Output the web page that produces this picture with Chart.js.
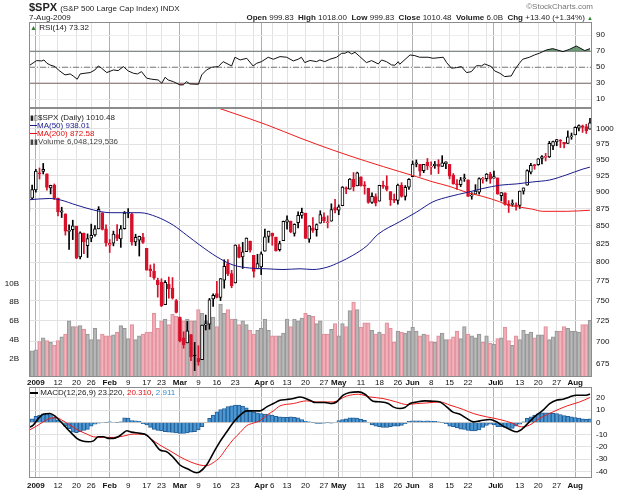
<!DOCTYPE html>
<html>
<head>
<meta charset="utf-8">
<script src="https://cdn.jsdelivr.net/npm/chart.js@4.4.0/dist/chart.umd.min.js"></script>
<style>
  body { margin:0; background:#fff; width:625px; height:491px; position:relative; overflow:hidden; font-family:'Liberation Sans', Arial, sans-serif; }
  canvas { position:absolute; left:0; top:0; }
  .t { position:absolute; white-space:nowrap; font-size:8px; line-height:8px; color:#222; }
  .b { font-weight:bold; }
</style>
</head>
<body>
<canvas id="rsiChart" width="625" height="491"></canvas>
<canvas id="priceChart" width="625" height="491"></canvas>
<canvas id="macdChart" width="625" height="491"></canvas>

<div class="t" style="left:29px;top:2px;font-size:11px;line-height:11px;font-weight:bold">$SPX <span style="font-size:8px;font-weight:normal">(S&amp;P 500 Large Cap Index) INDX</span></div>
<div class="t" style="left:29px;top:14px">7-Aug-2009</div>
<div class="t" style="right:32px;top:14px"><span class="b">Open</span> 999.83 &nbsp;<span class="b">High</span> 1018.00 &nbsp;<span class="b">Low</span> 999.83 &nbsp;<span class="b">Close</span> 1010.48 &nbsp;<span class="b">Volume</span> 6.0B &nbsp;<span class="b">Chg</span> +13.40 (+1.34%) <span style="color:#2a8a2a;font-size:6px">&#9650;</span></div>
<div class="t" style="right:32px;top:3px;color:#777">&copy;StockCharts.com</div>

<div class="t" style="left:30px;top:24px"><span style="color:#3a7a3a;font-size:7px">&#9650;</span> RSI(14) 73.32</div>

<div class="t" style="left:30px;top:114px"><span style="font-size:7px">&#9646;&#9647;</span>$SPX (Daily) 1010.48</div>
<div class="t" style="left:30px;top:122px;color:#1a1a8c"><span style="display:inline-block;width:7px;border-top:1px solid #1a1a8c;vertical-align:middle"></span>MA(50) 938.01</div>
<div class="t" style="left:30px;top:130px;color:#e01010"><span style="display:inline-block;width:7px;border-top:1px solid #e01010;vertical-align:middle"></span>MA(200) 872.58</div>
<div class="t" style="left:30px;top:138px;color:#444"><span style="font-size:7px">&#9646;&#9646;</span>Volume 6,048,129,536</div>

<div class="t" style="left:30px;top:389px"><span style="display:inline-block;width:8px;border-top:2px solid #000;vertical-align:middle"></span> MACD(12,26,9) 23.220, <span style="color:#e01010">20.310</span>, <span style="color:#2f8fcf">2.911</span></div>

<script>
// trading day index: -1 = 30 Dec 2008, 0 = 31 Dec 2008, 1 = 2 Jan 2009 ... 151 = 7 Aug 2009
const firstDay = -1;

const opens = [870.58,890.59,902.99,929.17,931.17,927.45,905.73,909.91,890.40,869.79,867.28,841.99,844.45,849.64,806.77,839.74,822.16,832.50,837.30,845.73,868.89,845.69,
  823.09,825.69,837.77,831.75,846.09,868.24,866.87,827.41,829.91,833.95,818.61,791.06,787.91,775.87,773.25,744.69,770.64,765.76,749.93,
  729.57,704.44,698.60,708.27,684.04,680.76,679.28,719.59,720.89,751.97,758.84,753.88,776.01,797.92,784.58,772.31,820.60,806.81,814.06,828.68,809.07,790.88,
  793.59,814.53,835.13,839.75,834.12,816.76,829.29,855.33,856.88,839.44,854.54,865.18,868.27,831.25,847.26,844.62,853.91,862.82,854.48,856.85,876.59,
  872.74,879.21,906.10,903.95,919.58,909.03,922.99,910.52,905.40,884.24,892.76,886.07,909.67,908.62,900.42,888.68,887.00,909.95,892.96,907.02,
  923.26,942.87,942.51,932.49,945.67,938.12,940.35,942.73,939.04,943.44,942.45,925.60,911.89,910.86,919.96,918.13,893.46,896.31,899.45,918.84,919.86,927.15,
  920.82,921.24,894.27,898.60,881.90,881.28,880.03,879.57,900.77,910.15,930.17,940.56,942.07,951.97,953.40,954.07,972.16,978.63,981.48,977.66,976.01,986.80,
  990.22,1001.41,1005.41,1004.06,999.83];
const highs = [891.12,910.32,934.73,936.63,943.85,927.45,910.00,911.93,890.40,877.02,867.28,851.59,858.13,849.64,841.72,839.74,838.61,852.53,850.45,877.86,868.89,851.66,
  830.78,842.60,851.85,850.55,870.75,875.01,868.05,838.22,835.48,839.43,818.61,796.17,797.58,778.69,777.85,775.49,780.12,779.42,751.27,
  729.57,711.67,724.12,708.27,699.09,695.27,719.60,731.92,752.63,758.29,774.53,778.12,803.04,803.24,788.91,823.37,823.65,826.78,832.98,828.68,809.07,810.48,
  813.62,845.61,842.50,839.75,834.12,828.42,856.91,864.31,856.88,852.93,870.35,875.63,868.27,850.09,861.78,852.87,871.80,868.83,864.48,882.06,888.70,
  880.48,907.85,907.70,920.28,929.58,930.17,922.99,915.57,905.40,898.36,896.97,910.00,916.39,924.60,900.42,896.65,911.76,913.84,909.45,920.02,
  947.77,949.38,942.51,942.47,951.69,946.33,946.92,949.77,956.23,946.30,942.45,928.00,918.44,921.93,927.09,918.13,898.69,910.85,921.42,922.00,927.99,930.01,
  931.92,921.24,898.72,898.60,886.80,887.86,883.57,901.05,905.84,933.95,943.96,941.89,951.62,956.53,959.83,979.42,979.79,982.49,982.35,977.76,996.68,993.18,
  1003.61,1007.12,1006.64,1008.00,1018.00];
const lows = [870.58,889.67,899.35,919.53,927.28,902.37,896.81,888.31,864.32,862.02,836.93,817.04,830.66,804.47,804.30,811.29,806.07,827.69,835.40,845.73,844.15,821.67,
  812.87,821.98,829.18,819.91,845.42,861.65,822.99,822.30,808.06,825.21,789.17,780.43,777.03,754.25,742.37,744.69,752.89,751.75,734.52,
  699.70,692.30,698.60,677.93,666.79,672.88,679.28,713.85,714.76,742.46,753.37,749.93,765.64,781.82,766.20,772.31,805.48,791.37,814.06,813.43,779.81,790.88,
  783.32,814.53,826.70,822.79,814.53,814.84,829.29,845.35,840.25,835.58,847.04,860.87,832.39,826.83,840.57,835.45,853.91,854.65,847.12,856.85,868.51,
  866.10,879.21,897.34,903.95,901.36,909.03,908.68,896.46,882.80,882.52,878.94,886.07,905.22,901.37,879.61,883.75,881.46,891.87,887.60,903.56,
  923.26,938.46,923.85,929.32,934.13,926.44,936.15,927.97,939.04,935.66,919.65,911.60,903.78,907.94,915.80,893.04,888.86,896.31,896.27,913.03,916.18,912.86,
  920.82,896.42,886.36,879.93,869.32,878.45,872.81,875.32,896.50,910.15,927.45,934.65,940.99,943.22,947.75,953.27,965.95,972.29,969.35,968.65,976.01,982.85,
  990.22,996.68,994.31,992.49,999.83];
const closes = [890.64,903.25,931.80,927.45,934.70,906.65,909.73,890.35,870.26,871.79,842.62,843.74,850.12,805.22,840.24,827.50,831.95,836.57,845.71,874.09,845.14,825.88,
  825.44,838.51,832.23,845.85,868.60,869.89,827.16,833.74,835.19,826.84,789.17,788.42,778.94,770.05,743.33,773.14,764.90,752.83,735.09,
  700.82,696.33,712.87,682.55,683.38,676.53,719.60,721.36,750.74,756.55,753.89,778.12,794.35,784.04,768.54,822.92,806.12,813.88,832.86,815.94,787.53,797.87,
  811.08,834.38,842.50,835.48,815.55,825.16,856.56,858.73,841.50,852.06,865.30,869.60,832.39,850.08,843.55,851.92,866.23,857.51,855.16,873.64,872.81,
  877.52,907.24,903.80,919.53,907.39,929.23,909.24,908.35,883.92,893.07,882.88,909.71,908.13,903.47,888.33,887.00,910.33,893.06,906.83,919.14,
  942.87,944.74,931.76,942.46,940.09,939.14,942.43,939.15,944.89,946.21,923.72,911.97,910.71,918.37,921.23,893.04,895.10,900.94,920.26,918.90,927.23,919.32,
  923.33,896.42,898.72,881.03,879.56,882.68,879.13,901.05,905.84,932.68,940.74,940.38,951.13,954.58,954.07,976.29,979.26,982.18,979.62,975.15,986.75,987.48,
  1002.63,1005.65,1002.72,997.08,1010.48];

// volume in billions of shares
const volumes = [2.5,2.8,2.9,3.8,4.2,3.9,3.7,3.4,3.9,4.3,4.6,
  6.0,5.4,5.4,5.5,5.1,4.6,4.0,5.2,4.0,4.6,
  4.4,4.4,4.5,4.8,5.5,5.2,4.1,5.6,4.0,4.4,
  4.6,4.8,4.8,6.8,5.2,6.0,6.2,5.6,6.7,6.5,
  6.2,6.0,6.2,6.0,6.0,7.2,6.8,6.0,5.7,6.4,
  5.4,7.8,6.8,7.2,6.2,6.2,5.6,6.0,5.6,5.0,
  4.6,5.0,5.2,6.2,5.0,4.4,4.4,4.4,4.7,6.2,
  5.4,6.2,6.0,
  6.3,6.8,6.6,6.5,5.7,6.0,4.6,4.6,5.1,5.7,
  4.4,5.7,5.4,7.1,8.0,7.2,5.3,5.8,5.8,5.0,
  4.6,4.8,4.6,5.8,5.2,3.7,4.9,4.8,4.7,4.9,
  5.3,4.9,4.4,4.6,4.5,3.8,3.7,4.4,4.7,4.0,
  4.0,4.3,4.9,4.1,5.4,4.6,4.4,4.2,4.6,3.7,
  4.4,3.6,3.5,4.1,4.2,5.3,3.9,3.4,4.4,4.0,
  5.0,4.6,4.8,4.2,4.5,4.5,5.4,4.0,4.3,4.9,
  4.9,5.4,5.2,4.9,4.9,4.8,5.6,5.6,6.05];

// moving averages: [day, value]
const ma50 = [[-1,888],[4.8,890],[7.5,888],[12.1,880],[16.6,873],[21.1,869],[25.6,869],[29.2,869],[33.7,863],[38.2,851],[41.8,837],
  [45.4,823],[50,807],[54.4,796],[58.9,792],[63.5,791],[67.9,790],[72.5,791],[76,790],[79.8,793],[83.3,800],[86.8,809],[90.6,822],
  [93.6,838],[99.5,856],[104.1,870],[108.5,885],[113.1,893],[117.7,899],[122,905],[126.6,910],[131.2,912],[135.5,915],[140.1,918],
  [144.7,926],[149.1,935],[151,938.01]];
const ma200 = [[48,1041],[54.4,1027],[63.5,1007],[72.5,985],[81.5,965],[90.6,947],[99.5,931],[104.1,923],[108.5,915],[113.1,908],
  [117.7,899],[122,893],[126.6,885],[128.8,880],[131.2,878],[135.5,874],[138.2,871],[144.7,871],[151,872.58]];

// RSI(14): [day, value]
const rsi = [[-0.8,52],[1.2,58.3],[2.6,57.9],[3.2,59.1],[4,55],[4.8,52.9],[6.2,50.8],[7.1,46.6],[8.9,40.4],[10.3,41.6],[11.1,39.1],
  [12.2,35],[13,41.6],[14.3,42.5],[15.7,43.3],[17,46.6],[17.9,51.6],[18.8,48.8],[20.2,43.3],[22,46.6],[23.3,45.8],[24.7,50.8],
  [26,45.4],[27.4,42.5],[28.5,41.6],[29.6,44.5],[31,36.3],[32.4,35],[34.1,34.1],[35.1,30],[36,37.5],[36.8,34.1],[38.2,32],
  [40,27.9],[40.9,27.9],[41.8,32],[42.7,29.1],[45,28.7],[45.9,40.4],[47.2,46.6],[48.6,50],[50.4,50.8],[51.7,57],[54,51.6],
  [54.9,62.5],[56.3,59.1],[58.1,61.2],[59.8,51.6],[60.8,55],[62.1,57],[63.9,62.5],[65.3,60],[67.1,63.3],[68.9,62.5],[70.7,57.9],
  [72,60],[72.9,62.5],[73.8,55.8],[75.2,58.5],[77,57],[77.9,59.1],[79.2,57],[80.6,60],[82.4,62.5],[83.8,67.5],[84.7,67.5],
  [85.5,69.5],[86.5,66.6],[87.4,68.7],[88.7,63.3],[90.5,55.8],[91.9,58.3],[93.7,54.1],[94.6,59.1],[95.9,57],[97.3,52.9],
  [98.2,52.5],[99.1,57],[99.5,53.7],[102.3,65.4],[103.6,64.5],[104.9,62.5],[107.2,62.5],[108.5,61.2],[111.3,62.5],[112.2,55.8],
  [113.5,48.8],[114.9,49.5],[116.2,50.8],[117.6,43.3],[118.9,44.5],[120.3,52],[121.6,51.6],[122.5,54.1],[124.3,50.8],[125.2,45.4],
  [126.6,42.5],[127.9,38.3],[129.7,39.1],[130.6,46.6],[131.9,55],[132.8,60],[134.6,62.5],[136,65.4],[137.3,67.5],[139.2,71.6],
  [140.9,73.3],[143.7,69.5],[145.5,72.5],[147.3,76.6],[149.6,70.8],[151,73.32]];
const rsiLevels = [70, 50, 30];

// MACD(12,26,9)
const macdLine = [[-0.8,-4.1],[0.3,-2.2],[1.7,3.3],[3,6.7],[4.8,7.3],[6.2,5.1],[8,-0.3],[9.4,-4.9],[10.7,-8.9],[12.1,-13],[13.4,-15],
  [15.2,-15.8],[16.6,-15],[17.9,-11.7],[19.3,-11.7],[20.6,-13],[22,-13],[23.3,-11.7],[24.7,-8.5],[25.6,-6.8],[26.9,-7.9],[29.2,-8.9],
  [31,-10.3],[32.8,-15.8],[34.6,-22.5],[36.4,-23.9],[38.2,-28.5],[40,-34.7],[42.3,-38.2],[44.5,-41],[45.4,-40.2],[47.2,-34.7],
  [49,-25.2],[50.8,-15.8],[52.7,-7.6],[54.4,-0.3],[56.3,5.9],[58.1,9.4],[59.8,9.4],[61.7,9.4],[63.5,12.7],[65.3,15.4],[67.1,18.1],
  [68.9,18.7],[70.7,19.5],[72.5,20.8],[75.2,18.1],[76.5,16.3],[79.2,16.3],[81.1,15.4],[82.4,16.7],[84.2,22.2],[86,24.4],[88.3,24.9],
  [90.1,23],[92.3,17.3],[94.6,16.7],[96.4,15.4],[97.7,12.7],[99.5,11.4],[100.9,12.2],[102.3,15.4],[104.1,16.7],[106.3,17.6],
  [108.5,17.3],[110.4,16.7],[112.2,12.7],[113.8,8.6],[115.8,6.7],[117.6,3.3],[119.4,0.5],[121.2,1.3],[123.9,2.4],[125.7,0.5],
  [127.5,-3],[129.3,-5.7],[131.1,-7.6],[132.8,-4.9],[134.6,0.5],[136.5,5.9],[138.3,10],[140.1,15.4],[141.9,18.1],[143.7,18.9],
  [145.5,20.8],[147.3,22.2],[150,22.2],[151,23.22]];
const signalLine = [[-0.8,-6.3],[1.2,-3],[3,0.5],[4.8,3.3],[6.6,3.8],[8.4,1.3],[10.3,-2.2],[12.1,-5.7],[14.8,-9.5],[16.6,-11.7],
  [19.3,-12.2],[22,-12.2],[24.7,-11.1],[27.4,-9.5],[30.1,-9.5],[31.9,-13],[34.6,-18.5],[37.3,-23.1],[40,-28],[42.7,-32],[45.4,-34.7],
  [47.2,-35.3],[49,-32.8],[50.8,-28.5],[52.7,-20.6],[54.4,-14],[56.3,-8.2],[58.1,-2.6],[59.8,-0.6],[61.7,1.5],[63.5,5.9],[65.3,9.4],
  [67.1,13.5],[70.7,15.4],[74.3,17.6],[77,16.7],[81.5,16.7],[85,21.4],[88.3,23],[91.4,20.8],[95,19.5],[98.6,16.7],[101.4,14.6],
  [104.1,15.4],[106.8,15.9],[110.4,16.7],[113.1,14.1],[116.7,10.6],[119.4,7.3],[123,4.6],[126.6,2.4],[130.2,-0.8],[132.4,-3.6],
  [134.6,-2.2],[137.3,3.3],[141,8.6],[144.6,13.3],[148.2,16.7],[151,20.31]];
const histogram = [2,3,5,6,7,7.3,6.5,4.6,2,0.5,-3,
  -5,-8,-8.4,-7.6,-6.5,-5.7,-3,-1.4,-0.5,0,
  0.3,0.5,0,-0.3,0.5,3.8,3.5,1.5,1.3,1,
  -1,-2,-4,-5.7,-6.5,-7,-7.5,-8,-8.2,-8.5,
  -8.9,-8.9,-8.5,-8,-7.6,-6,-3.5,0,3.3,6,
  8.7,10.5,11.4,13,13.6,14.1,14.1,13.3,12,10,
  8.5,7.9,7.2,6.8,6.4,6,5,4.6,4.3,4.1,
  4.6,4.2,3.8,2.4,1,0.5,-0.3,-0.8,-0.8,-0.5,
  -0.3,-0.5,0,1.5,2.4,3,3.8,3.8,3.5,2.5,
  1.9,0,-2,-3,-3.5,-4,-4,-3.5,-3,-3,
  -2.5,-1,1,1.4,1.4,1.4,1.2,1.4,1.2,1,
  0.5,-0.3,-1,-3,-3.5,-4.5,-5.5,-5.7,-6.5,-7,
  -7,-6,-4,-2.5,-1.4,-2,-3.5,-3.5,-4,-4.9,
  -4.9,-3,-1.4,0.5,3.3,4.5,6,7,7.9,7.9,
  7.9,7.5,7.3,6.5,5.5,5,4.6,4,3.5,3,2.6,2.911];

// axis ticks
const gridDays = [1,2,7,12,16,21,26,31,35,40,45,50,55,60,62,65,69,74,79,83,84,89,94,99,103,108,113,118,123,125,127,132,137,142,147];
const monthDays = [1,21,40,62,83,103,125,147];
const labelDays = [1,7,12,16,21,26,31,35,40,45,50,55,62,65,69,74,79,83,89,94,99,103,108,113,118,125,127,132,137,142,147];
const dayLabels = ['2009','12','20','26','Feb','9','17','23','Mar','9','16','23','Apr','6','13','20','27','May','11','18','26','Jun','8','15','22','Jul','6','13','20','27','Aug'];
const priceTicks = [675,700,725,750,775,800,825,850,875,900,925,950,975,1000];
const volumeTicks = [2,4,6,8,10];
const rsiTicks = [10,30,50,70,90];
const macdTicks = [-40,-30,-20,-10,0,10,20];

const xMin = -0.85, xMax = 151.55;
const FONT = "'Liberation Sans', Arial, sans-serif";
const RED = '#d8102a';

Chart.defaults.font.family = FONT;
Chart.defaults.font.size = 8;
Chart.defaults.color = '#111';

const days = closes.map((_, i) => i + firstDay);
const isDown = i => closes[i] < (i > 0 ? closes[i - 1] : opens[i]);

const frame = {
  id: 'frame',
  afterDraw(chart) {
    const a = chart.chartArea, c = chart.ctx;
    c.save();
    c.strokeStyle = '#8c8c8c';
    c.lineWidth = 1;
    c.strokeRect(Math.round(a.left) + 0.5, Math.round(a.top) + 0.5, Math.round(a.right - a.left) - 1, Math.round(a.bottom - a.top) - 1);
    c.restore();
  }
};

function xAxis(showLabels, h, pad) {
  return {
    type: 'linear', min: xMin, max: xMax, offset: false,
    afterBuildTicks: s => { s.ticks = gridDays.map(v => ({ value: v })); },
    afterFit: s => { s.height = h; },
    grid: { offset: false, drawTicks: false, color: c => monthDays.includes(c.tick && c.tick.value) ? '#b0b0b0' : '#e2e2e2' },
    border: { display: false },
    ticks: {
      display: showLabels, autoSkip: false, maxRotation: 0, padding: pad, color: '#111',
      font: c => ({ family: FONT, size: 8, weight: monthDays.includes(c.tick && c.tick.value) ? 'bold' : 'normal' }),
      callback: v => { const k = labelDays.indexOf(v); return k < 0 ? '' : dayLabels[k]; }
    }
  };
}

function rightAxis(extra) {
  return Object.assign({
    position: 'right',
    afterFit: s => { s.width = 33; },
    border: { display: false },
    grid: { drawTicks: false, color: '#e2e2e2' },
    ticks: { padding: 4, color: '#111', font: { size: 8 } }
  }, extra);
}

const common = {
  responsive: false,
  animation: false,
  devicePixelRatio: 1,
  events: [],
  plugins: { legend: { display: false }, tooltip: { enabled: false } }
};

const pts = arr => arr.map(p => ({ x: p[0], y: p[1] }));

// ---- RSI panel ----
new Chart(document.getElementById('rsiChart'), {
  type: 'line',
  data: {
    datasets: [
      { data: pts(rsi), borderColor: '#111', borderWidth: 1, pointRadius: 0, order: 1,
        fill: { target: { value: 70 }, above: 'rgba(84,140,96,0.85)', below: 'rgba(0,0,0,0)' } },
      { data: pts(rsi), borderWidth: 0, pointRadius: 0, order: 2,
        fill: { target: { value: 30 }, above: 'rgba(0,0,0,0)', below: 'rgba(200,90,90,0.85)' } },
      ...rsiLevels.map(v => ({
        data: [{ x: xMin, y: v }, { x: xMax, y: v }], borderColor: v === 50 ? '#777' : '#6e6e6e', borderWidth: 1,
        borderDash: v === 50 ? [6, 2, 1, 2] : [], pointRadius: 0, order: 5, fill: false
      }))
    ]
  },
  options: Object.assign({}, common, {
    layout: { padding: { left: 29, top: 22, right: 0, bottom: 491 - 108 } },
    scales: {
      x: xAxis(false, 0, 0),
      y: rightAxis({ min: -1, max: 106.6, afterBuildTicks: s => { s.ticks = rsiTicks.map(v => ({ value: v })); },
        grid: { drawTicks: false, color: '#ededed' } })
    }
  }),
  plugins: [frame]
});

// ---- Price panel ----
new Chart(document.getElementById('priceChart'), {
  type: 'line',
  data: {
    datasets: [
      { type: 'bar', yAxisID: 'yv', order: 10, grouped: false, clip: 0, barThickness: 3.7,
        data: days.map((d, i) => ({ x: d, y: volumes[i] })),
        backgroundColor: days.map((d, i) => isDown(i) ? 'rgba(240,170,180,0.85)' : 'rgba(180,180,180,0.9)'),
        borderColor: days.map((d, i) => isDown(i) ? '#e2909c' : '#979797'),
        borderWidth: 1, borderSkipped: 'start' },
      { type: 'bar', order: 4, grouped: false, clip: 0, barThickness: 1,
        data: days.map((d, i) => ({ x: d, y: [lows[i], highs[i]] })),
        backgroundColor: days.map((d, i) => isDown(i) ? RED : '#000'), borderWidth: 0 },
      { type: 'bar', order: 3, grouped: false, clip: 0, barThickness: 3, minBarLength: 1,
        data: days.map((d, i) => ({ x: d, y: [opens[i], closes[i]] })),
        backgroundColor: days.map((d, i) => closes[i] >= opens[i] ? '#fff' : (isDown(i) ? RED : '#000')),
        borderColor: days.map((d, i) => isDown(i) ? RED : '#000'),
        borderWidth: 1, borderSkipped: false },
      { data: pts(ma50), borderColor: '#1a1a8c', borderWidth: 1, pointRadius: 0, cubicInterpolationMode: 'monotone', order: 1 },
      { data: pts(ma200), borderColor: '#ee1c1c', borderWidth: 1, pointRadius: 0, cubicInterpolationMode: 'monotone', order: 1 }
    ]
  },
  options: Object.assign({}, common, {
    layout: { padding: { left: 0, top: 108, right: 0, bottom: 491 - 377 - 10 } },
    scales: {
      x: xAxis(true, 10, 1),
      y: rightAxis({ type: 'logarithmic', min: 659.7, max: 1035.8,
        afterBuildTicks: s => { s.ticks = priceTicks.map(v => ({ value: v })); },
        ticks: { padding: 4, color: '#111', font: { size: 8 }, callback: v => String(v) } }),
      yv: { type: 'linear', position: 'left', min: 0, max: 28.77,
        afterBuildTicks: s => { s.ticks = volumeTicks.map(v => ({ value: v })); },
        afterFit: s => { s.width = 29; },
        border: { display: false },
        grid: { display: false },
        ticks: { padding: 2, color: '#111', font: { size: 8 }, callback: v => v + 'B' } }
    }
  }),
  plugins: [frame]
});

// ---- MACD panel ----
new Chart(document.getElementById('macdChart'), {
  type: 'line',
  data: {
    datasets: [
      { type: 'bar', order: 5, grouped: false, clip: 0, barThickness: 3.7,
        data: days.map((d, i) => ({ x: d, y: histogram[i] })),
        backgroundColor: '#4a98d4', borderColor: '#245f98', borderWidth: 1, borderSkipped: 'start' },
      { data: pts(signalLine), borderColor: '#ee1c1c', borderWidth: 1, pointRadius: 0, cubicInterpolationMode: 'monotone', order: 2 },
      { data: pts(macdLine), borderColor: '#000', borderWidth: 1.6, pointRadius: 0, cubicInterpolationMode: 'monotone', order: 1 }
    ]
  },
  options: Object.assign({}, common, {
    layout: { padding: { left: 29, top: 387, right: 0, bottom: 0 } },
    scales: {
      x: xAxis(true, 13, 3),
      y: rightAxis({ min: -45.3, max: 28.9,
        afterBuildTicks: s => { s.ticks = macdTicks.map(v => ({ value: v })); },
        grid: { drawTicks: false, color: c => c.tick && c.tick.value === 0 ? '#c4c4c4' : '#e2e2e2' } })
    }
  }),
  plugins: [frame]
});
</script>
</body>
</html>
